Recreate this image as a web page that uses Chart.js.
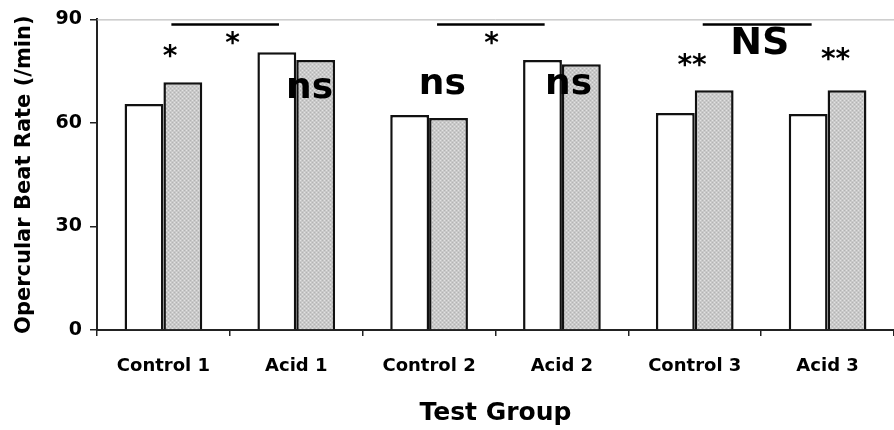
<!DOCTYPE html>
<html>
<head>
<meta charset="utf-8">
<script src="https://cdn.jsdelivr.net/npm/chart.js@4.4.0/dist/chart.umd.min.js"></script>
<style>
    html, body { margin: 0; padding: 0; background: #fff; }
    #wrap { width: 894px; height: 430px; }
</style>
</head>
<body>
<div id="wrap"><canvas id="chart" width="894" height="430"></canvas></div>
<script>
// Data
const groups = ['Control 1', 'Acid 1', 'Control 2', 'Acid 2', 'Control 3', 'Acid 3'];
const whiteBars = [65.5, 80.5, 62.3, 78.2, 62.9, 62.6];
const greyBars = [71.8, 78.2, 61.4, 77.0, 69.5, 69.5];
const yTicks = [0, 30, 60, 90];

// Significance marks: text, category position, value position, size
const marks = [
    ['*', 0.05, 80.8, 28],
    ['*', 0.52, 84.5, 28],
    ['ns', 1.1, 69.8, 36],
    ['ns', 2.1, 71.2, 36],
    ['*', 2.47, 84.5, 28],
    ['ns', 3.05, 71.2, 36],
    ['**', 3.98, 78.2, 28],
    ['NS', 4.49, 82.8, 38],
    ['**', 5.06, 79.9, 28]
];
// Bracket lines: from category, to category, value
const brackets = [
    [0.06, 0.87, 88.5],
    [2.06, 2.87, 88.5],
    [4.06, 4.88, 88.5]
];

const FONT = '"DejaVu Sans", "Liberation Sans", Arial, sans-serif';

// stippled grey fill like the printed figure
function makeStipple() {
    const c = document.createElement('canvas');
    c.width = 4; c.height = 4;
    const g = c.getContext('2d');
    g.fillStyle = '#c9c9c9';
    g.fillRect(0, 0, 4, 4);
    g.fillStyle = '#e2e2e2';
    g.fillRect(0, 0, 1, 1);
    g.fillRect(2, 2, 1, 1);
    g.fillStyle = '#b3b3b3';
    g.fillRect(2, 0, 1, 1);
    g.fillRect(0, 2, 1, 1);
    return g.createPattern(c, 'repeat');
}

const annotations = {
    id: 'annotations',
    afterDraw(chart) {
        const { ctx, chartArea, scales: { x, y } } = chart;
        const step = x.getPixelForValue(1) - x.getPixelForValue(0);
        const xAt = v => x.getPixelForValue(0) + v * step;

        // light top border
        ctx.save();
        ctx.strokeStyle = '#b0b0b0';
        ctx.lineWidth = 1;
        ctx.beginPath();
        ctx.moveTo(chartArea.left, chartArea.top + 0.5);
        ctx.lineTo(chartArea.right, chartArea.top + 0.5);
        ctx.stroke();

        ctx.strokeStyle = '#000';
        ctx.lineWidth = 2.5;
        brackets.forEach(([a, b, v]) => {
            const py = y.getPixelForValue(v);
            ctx.beginPath();
            ctx.moveTo(xAt(a), py);
            ctx.lineTo(xAt(b), py);
            ctx.stroke();
        });

        ctx.fillStyle = '#000';
        ctx.textAlign = 'center';
        ctx.textBaseline = 'middle';
        marks.forEach(([txt, c, v, size]) => {
            ctx.font = `bold ${size}px ${FONT}`;
            let py = y.getPixelForValue(v);
            if (txt.startsWith('*')) py += size * 0.22;
            ctx.fillText(txt, xAt(c), py);
        });
        ctx.restore();
    }
};

new Chart(document.getElementById('chart'), {
    type: 'bar',
    data: {
        labels: groups,
        datasets: [
            {
                data: whiteBars,
                backgroundColor: '#ffffff',
                borderColor: '#111',
                borderWidth: 2.5,
                borderSkipped: 'bottom'
            },
            {
                data: greyBars,
                backgroundColor: makeStipple(),
                borderColor: '#111',
                borderWidth: 2.5,
                borderSkipped: 'bottom'
            }
        ]
    },
    options: {
        responsive: false,
        animation: false,
        events: [],
        layout: { padding: { top: 18, right: 0, left: 0, bottom: 0 } },
        datasets: { bar: { categoryPercentage: 0.585, barPercentage: 1 } },
        plugins: { legend: { display: false }, tooltip: { enabled: false } },
        scales: {
            x: {
                grid: { display: true, offset: true, drawOnChartArea: false, tickLength: 6, color: '#222', lineWidth: 1.5 },
                border: { color: '#222', width: 2 },
                ticks: { color: '#000', padding: 20, font: { family: FONT, size: 18, weight: 'bold' } },
                title: {
                    display: true,
                    text: 'Test Group',
                    color: '#000',
                    padding: { top: 0, bottom: 2 },
                    font: { family: FONT, size: 25, weight: 'bold' }
                },
                afterFit(scale) { scale.height = 100; }
            },
            y: {
                min: 0,
                max: 90,
                afterBuildTicks(scale) { scale.ticks = yTicks.map(v => ({ value: v })); },
                grid: { display: true, drawOnChartArea: false, tickLength: 7, color: '#222', lineWidth: 1.5 },
                border: { color: '#222', width: 2 },
                ticks: { color: '#000', padding: 8, font: { family: FONT, size: 19, weight: 'bold' } },
                title: {
                    display: true,
                    text: 'Opercular Beat Rate (/min)',
                    color: '#000',
                    padding: { top: 12, bottom: 0 },
                    font: { family: FONT, size: 21, weight: 'bold' }
                },
                afterFit(scale) { scale.width = 97; }
            }
        }
    },
    plugins: [annotations]
});
</script>
</body>
</html>
